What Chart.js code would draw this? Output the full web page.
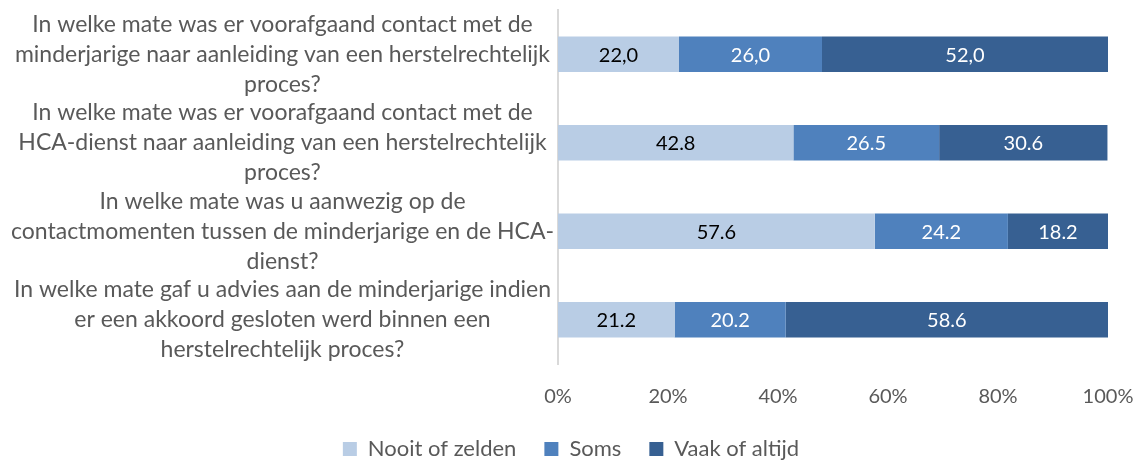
<!DOCTYPE html>
<html lang="nl">
<head>
<meta charset="UTF-8">
<title>Contact minderjarige</title>
<script src="https://cdn.jsdelivr.net/npm/chart.js"></script>
<style>
  html, body { margin: 0; padding: 0; background: #fff; }
  #wrap { width: 1142px; height: 460px; }
</style>
</head>
<body>
<div id="wrap"><canvas id="chart"></canvas></div>
<script>
// vragen (categorieën), elk als lijst van regels
const vragen = [
  ['In welke mate was er voorafgaand contact met de', 'minderjarige naar aanleiding van een herstelrechtelijk', 'proces?'],
  ['In welke mate was er voorafgaand contact met de', 'HCA-dienst naar aanleiding van een herstelrechtelijk', 'proces?'],
  ['In welke mate was u aanwezig op de', 'contactmomenten tussen de minderjarige en de HCA-', 'dienst?'],
  ['In welke mate gaf u advies aan de minderjarige indien', 'er een akkoord gesloten werd binnen een', 'herstelrechtelijk proces?']
];
const nooitOfZelden = [22.0, 42.8, 57.6, 21.2];
const soms = [26.0, 26.5, 24.2, 20.2];
const vaakOfAltijd = [52.0, 30.6, 18.2, 58.6];
// decimaalteken zoals in de bron per vraag
const decimaalTeken = [',', '.', '.', '.'];
const xTicks = [0, 20, 40, 60, 80, 100];

const FONT = 'Lato, "Open Sans", sans-serif';

const waardeLabels = {
  id: 'waardeLabels',
  afterDatasetsDraw(chart) {
    const ctx = chart.ctx;
    ctx.save();
    ctx.font = '20px ' + FONT;
    ctx.textAlign = 'center';
    ctx.textBaseline = 'middle';
    chart.data.datasets.forEach((ds, di) => {
      const meta = chart.getDatasetMeta(di);
      meta.data.forEach((bar, i) => {
        const txt = ds.data[i].toFixed(1).replace('.', decimaalTeken[i]);
        const x = (bar.x + bar.base) / 2;
        ctx.fillStyle = di === 0 ? '#000000' : '#ffffff';
        ctx.fillText(txt, x, bar.y + 1);
      });
    });
    ctx.restore();
  }
};

// legenda minder hoog maken, ruime afstand tussen items behouden
const legendaHoogte = {
  id: 'legendaHoogte',
  beforeLayout(chart) {
    const lg = chart.legend;
    if (lg && !lg._fitWrapped) {
      const orig = lg.fit.bind(lg);
      lg.fit = function () { orig(); this.height = 50; };
      lg._fitWrapped = true;
    }
  }
};

new Chart(document.getElementById('chart'), {
  type: 'bar',
  data: {
    labels: vragen,
    datasets: [
      { label: 'Nooit of zelden', data: nooitOfZelden, backgroundColor: '#B9CDE5' },
      { label: 'Soms', data: soms, backgroundColor: '#4F81BD' },
      { label: 'Vaak of altijd', data: vaakOfAltijd, backgroundColor: '#376092' }
    ]
  },
  options: {
    indexAxis: 'y',
    responsive: true,
    maintainAspectRatio: false,
    animation: false,
    categoryPercentage: 0.8,
    barPercentage: 0.5,
    layout: { padding: { top: 10, right: 0, bottom: 0, left: 0 } },
    scales: {
      x: {
        stacked: true,
        min: 0,
        max: 100,
        afterBuildTicks(scale) { scale.ticks = xTicks.map(v => ({ value: v })); },
        afterFit(scale) {
          scale.height = 46;
          scale.paddingRight = 34;
          scale.paddingLeft = 0;
        },
        grid: { display: false, drawTicks: false },
        border: { display: false },
        ticks: {
          color: '#595959',
          font: { family: FONT, size: 20 },
          padding: 21,
          callback: v => v + '%'
        }
      },
      y: {
        stacked: true,
        grid: { display: false, drawTicks: false },
        border: { display: true, color: '#D9D9D9', width: 2 },
        afterFit(scale) {
          scale.width = 558;
          scale.paddingTop = 0;
          scale.paddingBottom = 0;
        },
        ticks: {
          color: '#595959',
          crossAlign: 'center',
          autoSkip: false,
          padding: 4,
          font: { family: FONT, size: 23, lineHeight: 1.3 }
        }
      }
    },
    plugins: {
      legend: {
        position: 'bottom',
        labels: {
          color: '#595959',
          font: { family: FONT, size: 22 },
          boxWidth: 14,
          boxHeight: 14,
          padding: 28
        }
      },
      tooltip: { enabled: false }
    }
  },
  plugins: [waardeLabels, legendaHoogte]
});
</script>
</body>
</html>
